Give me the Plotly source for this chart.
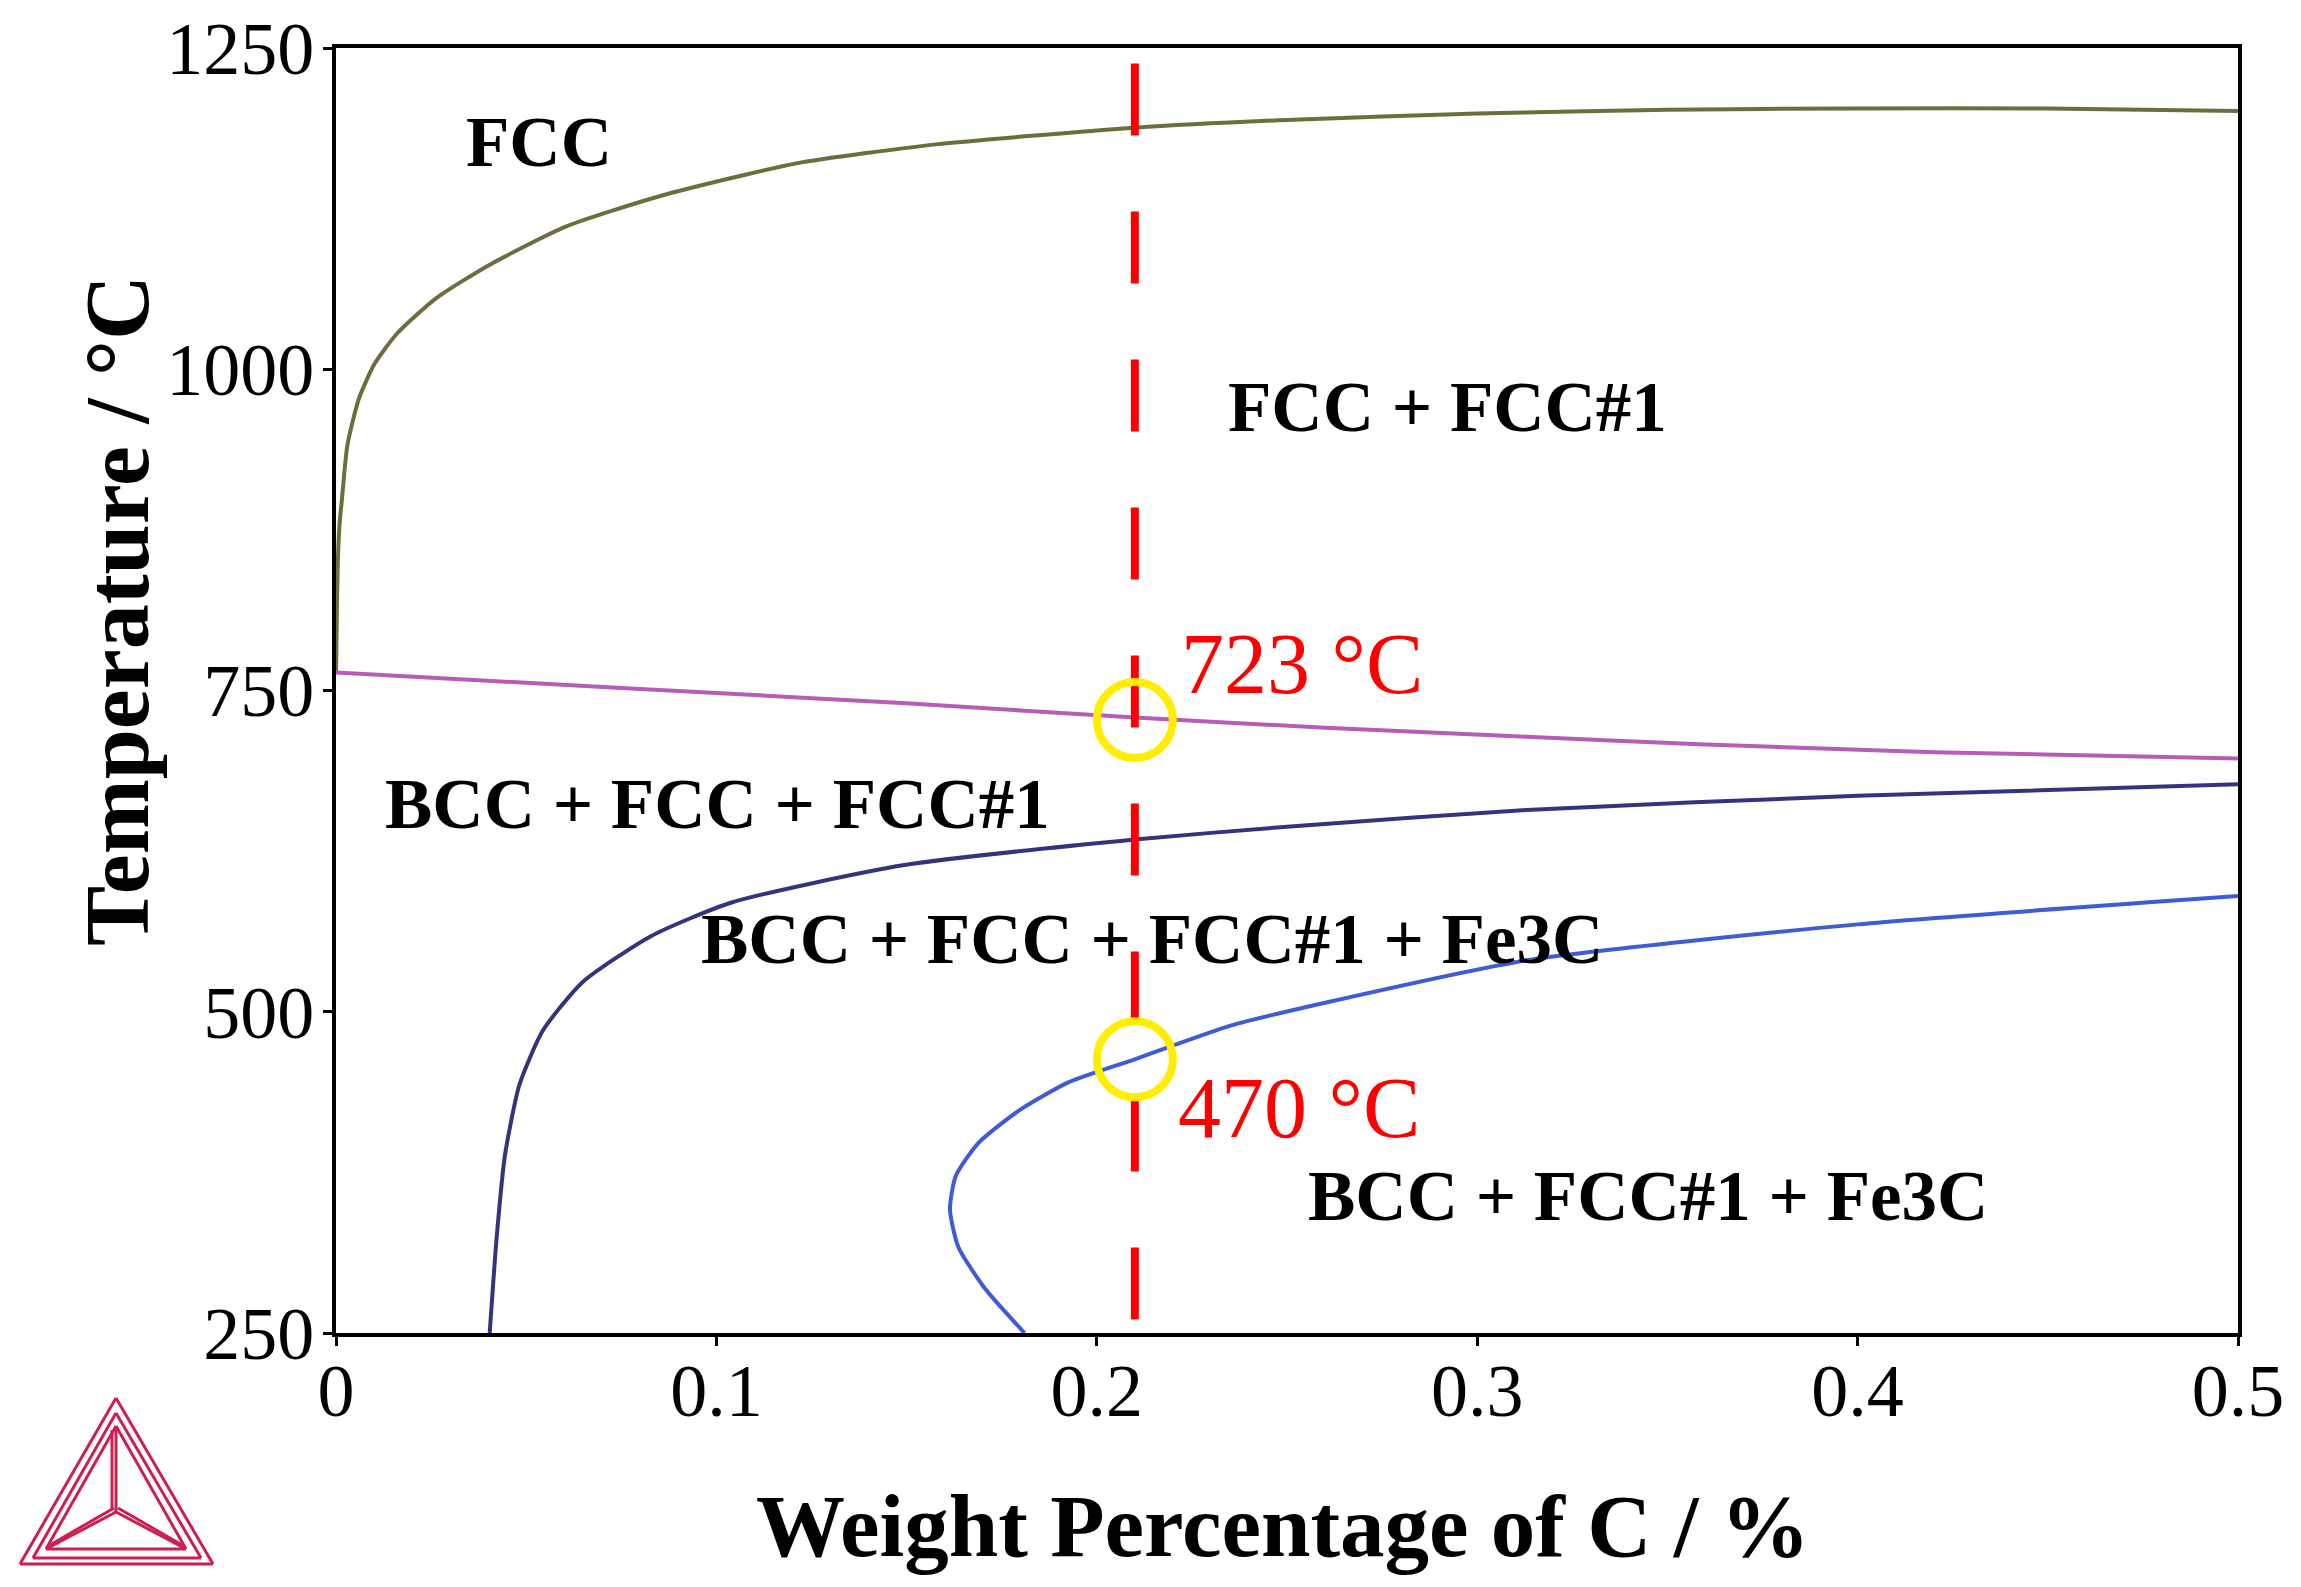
import plotly.graph_objects as go

# ---------------- data ----------------
fcc_x = [0, 0.0005, 0.001, 0.0015, 0.003, 0.006, 0.0101, 0.0161, 0.0262, 0.0402, 0.0604,
         0.0855, 0.1207, 0.1577, 0.21, 0.25, 0.3, 0.35, 0.4, 0.45, 0.5]
fcc_t = [763, 852, 882, 897, 941, 977, 1004, 1028, 1055, 1081, 1111,
         1135, 1160, 1175, 1188, 1194, 1199, 1202, 1203, 1203, 1201]

a1_x = [0, 0.05, 0.1, 0.15, 0.21, 0.26, 0.313, 0.36, 0.42, 0.5]
a1_t = [764, 756, 748, 740, 729, 721, 714, 708, 702, 697]

bcc_x = [0.0404, 0.0422, 0.0444, 0.0482, 0.0543, 0.0648, 0.0829, 0.104, 0.149, 0.21,
         0.25, 0.313, 0.4, 0.5]
bcc_t = [250, 323, 388, 443, 485, 523, 559, 585, 614, 634, 644, 657, 668, 677]

fe3c_x = [0.181, 0.1705, 0.1636, 0.1614, 0.1629, 0.1689, 0.1795, 0.1925, 0.21, 0.235,
          0.26, 0.313, 0.4, 0.5]
fe3c_t = [250, 285, 317, 346, 372, 398, 423, 445, 463, 489, 507, 540, 568, 590]

ref_x = [0.21, 0.21]
ref_t = [1238, 250]

highlight_x = [0.21, 0.21]
highlight_t = [727, 463]

x_ticks = [0, 0.1, 0.2, 0.3, 0.4, 0.5]
x_ticktext = ["0", "0.1", "0.2", "0.3", "0.4", "0.5"]
y_ticks = [250, 500, 750, 1000, 1250]
y_ticktext = ["250", "500", "750", "1000", "1250"]

region_labels = ["FCC", "FCC + FCC#1", "BCC + FCC + FCC#1",
                 "BCC + FCC + FCC#1 + Fe3C", "BCC + FCC#1 + Fe3C"]
region_x = [0.0533, 0.2923, 0.1003, 0.2145, 0.3449]
region_t = [1177, 971, 662, 557, 357]

temp_labels = ["723 °C", "470 °C"]
temp_label_x = [0.254, 0.2532]
temp_label_t = [771, 425]

SERIF = "Liberation Serif, Times New Roman, serif"

# ---------------- figure ----------------
# page has an 8px body margin; compensate so the plot lands where the reference's does
OFF = 8
PAGE_W, PAGE_H = 2301, 1587
PLOT_L, PLOT_R, PLOT_T, PLOT_B = 336, 2238, 48, 1333
W, H = PAGE_W - OFF, PAGE_H - OFF
L, T = PLOT_L - OFF, PLOT_T - OFF
R, B = PAGE_W - PLOT_R, PAGE_H - PLOT_B
PW, PH = PLOT_R - PLOT_L, PLOT_B - PLOT_T

fig = go.Figure()

curves = [
    (fcc_x, fcc_t, "#6e6e3c"),
    (a1_x, a1_t, "#b75cb7"),
    (bcc_x, bcc_t, "#34347c"),
    (fe3c_x, fe3c_t, "#3f5bd5"),
]
for xs, ts, col in curves:
    fig.add_trace(go.Scatter(x=xs, y=ts, mode="lines",
                             line=dict(color=col, width=4, shape="spline", smoothing=0.6),
                             hoverinfo="skip", showlegend=False))

fig.add_trace(go.Scatter(x=ref_x, y=ref_t, mode="lines",
                         line=dict(color="#ff0000", width=8, dash="72px,76px"),
                         hoverinfo="skip", showlegend=False))

fig.add_trace(go.Scatter(x=highlight_x, y=highlight_t, mode="markers",
                         marker=dict(symbol="circle-open", size=76,
                                     line=dict(color="#ffee00", width=8), color="#ffee00"),
                         hoverinfo="skip", showlegend=False))

for txt, xv, tv in zip(region_labels, region_x, region_t):
    fig.add_annotation(x=xv, y=tv, text="<b>" + txt + "</b>", showarrow=False,
                       font=dict(family=SERIF, size=71, color="black"),
                       xanchor="center", yanchor="middle")

for txt, xv, tv in zip(temp_labels, temp_label_x, temp_label_t):
    fig.add_annotation(x=xv, y=tv, text=txt, showarrow=False,
                       font=dict(family=SERIF, size=86, color="#ff0000"),
                       xanchor="center", yanchor="middle")

def px_to_paper(px, py):
    return (px - PLOT_L) / PW, (PLOT_B - py) / PH

# axis titles
tx, ty = px_to_paper(1283, 1526)
fig.add_annotation(xref="paper", yref="paper", x=tx, y=ty,
                   text="<b>Weight Percentage of C / %</b>", showarrow=False,
                   font=dict(family=SERIF, size=89, color="black"),
                   xanchor="center", yanchor="middle")
tx, ty = px_to_paper(117, 611)
fig.add_annotation(xref="paper", yref="paper", x=tx, y=ty,
                   text="<b>Temperature / °C</b>", showarrow=False, textangle=-90,
                   font=dict(family=SERIF, size=90, color="black"),
                   xanchor="center", yanchor="middle")

# Thermo-Calc style logo (decoration, pixel positions)
logo_col = "#cc1f4f"
logo_segments = [
    ((116, 1398), (20, 1564)), ((116, 1398), (213, 1564)), ((20, 1564), (213, 1564)),
    ((116, 1413), (33, 1558)), ((116, 1413), (201, 1558)), ((33, 1558), (201, 1558)),
    ((116, 1426), (46, 1549)), ((116, 1426), (186, 1549)), ((46, 1549), (186, 1549)),
    ((116, 1426), (116, 1512)), ((46, 1549), (116, 1512)), ((186, 1549), (116, 1512)),
    ((112, 1430), (112, 1510)), ((50, 1545), (114, 1508)), ((182, 1545), (118, 1508)),
]
for (x0, y0), (x1, y1) in logo_segments:
    a0, b0 = px_to_paper(x0, y0)
    a1, b1 = px_to_paper(x1, y1)
    fig.add_shape(type="line", xref="paper", yref="paper", x0=a0, y0=b0, x1=a1, y1=b1,
                  line=dict(color=logo_col, width=3))

fig.update_layout(
    width=W, height=H,
    margin=dict(l=L, r=R, t=T, b=B, autoexpand=False),
    paper_bgcolor="white", plot_bgcolor="white",
    showlegend=False,
    xaxis=dict(range=[0, 0.5], tickvals=x_ticks, ticktext=x_ticktext,
               showgrid=False, zeroline=False, showline=True, linecolor="black",
               linewidth=4, mirror=True, ticks="outside", ticklen=9, tickwidth=3,
               tickcolor="black", ticklabelstandoff=-19, ticklabeloverflow="allow",
               tickfont=dict(family=SERIF, size=74, color="black")),
    yaxis=dict(range=[250, 1250], tickvals=y_ticks, ticktext=y_ticktext,
               showgrid=False, zeroline=False, showline=True, linecolor="black",
               linewidth=4, mirror=True, ticks="outside", ticklen=9, tickwidth=3,
               tickcolor="black", ticklabelstandoff=-6, ticklabeloverflow="allow",
               tickfont=dict(family=SERIF, size=74, color="black")),
)

fig.write_html("out.html")
